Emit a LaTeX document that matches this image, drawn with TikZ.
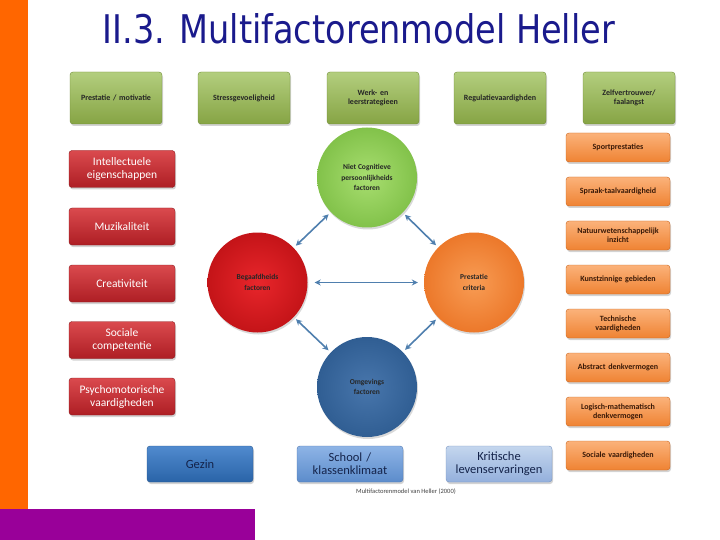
\documentclass[tikz,border=0pt]{standalone}
\usepackage{fontspec}
\setmainfont{Carlito}
\newfontfamily\titlefont{DejaVu Sans Condensed}
\usetikzlibrary{shadows,arrows.meta}

\definecolor{titleblue}{HTML}{1A1A8C}
\definecolor{barorange}{HTML}{FF6600}
\definecolor{barpurple}{HTML}{990099}
\definecolor{linkblue}{HTML}{4F7FAE}
\definecolor{grntop}{HTML}{B3CE7E}
\definecolor{grnbot}{HTML}{86A444}
\definecolor{grnline}{HTML}{6F8B34}
\definecolor{redtop}{HTML}{DA4A4E}
\definecolor{redbot}{HTML}{AE1E24}
\definecolor{redline}{HTML}{8C1A1E}
\definecolor{orgtop}{HTML}{FBB27A}
\definecolor{orgbot}{HTML}{EF8333}
\definecolor{orgline}{HTML}{C9651E}
\definecolor{orgtext}{HTML}{3A1A08}
\definecolor{boxtext}{HTML}{14234A}

\tikzset{
  box/.style={rounded corners=3pt, inner sep=1pt, align=center,
    drop shadow={shadow xshift=1pt, shadow yshift=-2pt, opacity=.35}},
  greenbox/.style={box, draw=grnline, top color=grntop, bottom color=grnbot,
    minimum width=92pt, minimum height=52pt, text width=88pt,
    font=\bfseries\fontsize{8}{9}\selectfont, text=black!85},
  redbox/.style={box, draw=redline, top color=redtop, bottom color=redbot,
    minimum width=106pt, minimum height=37pt, text width=104pt,
    font=\fontsize{11.5}{13}\selectfont, text=white},
  orangebox/.style={box, draw=orgline, top color=orgtop, bottom color=orgbot,
    minimum width=102pt, minimum height=29pt, text width=102pt,
    font=\bfseries\fontsize{8}{9}\selectfont, text=orgtext},
  bluebox/.style={box, minimum width=106pt, minimum height=36pt, text width=104pt,
    font=\fontsize{12.5}{13}\selectfont, text=boxtext},
  ball/.style={circle, minimum size=100pt, inner sep=0pt, align=center,
    font=\bfseries\fontsize{7.5}{10.5}\selectfont, text=black!85,
    drop shadow={shadow xshift=1pt, shadow yshift=-2pt, opacity=.3}},
  link/.style={{Stealth[length=6pt,width=6pt]}-{Stealth[length=6pt,width=6pt]}, line width=1.6pt, draw=linkblue,
    shorten <=3pt, shorten >=3pt}
}

\begin{document}
\begin{tikzpicture}[x=1pt,y=-1pt]
  \useasboundingbox (0,0) rectangle (720,540);

  % side bars
  \fill [barorange] (0,0) rectangle (28,509);
  \fill [barpurple] (0,509) rectangle (255,540);

  \node (title) [text=titleblue] at (359,29)
    {\resizebox{512pt}{30pt}{\titlefont II.3. Multifactorenmodel Heller}};

  % top row
  \node (g1) [greenbox] at (116,98) {Prestatie / motivatie};
  \node (g2) [greenbox] at (244,98) {Stressgevoeligheid};
  \node (g3) [greenbox] at (373,98) {Werk- en\\leerstrategieen};
  \node (g4) [greenbox] at (500,98) {Regulatievaardighden};
  \node (g5) [greenbox] at (629,98) {Zelfvertrouwer/\\faalangst};

  % left column
  \node (r1) [redbox] at (122,169) {Intellectuele\\eigenschappen};
  \node (r2) [redbox] at (122,226.5) {Muzikaliteit};
  \node (r3) [redbox] at (122,283.5) {Creativiteit};
  \node (r4) [redbox] at (122,340) {Sociale\\competentie};
  \node (r5) [redbox] at (122,396.5) {Psychomotorische\\vaardigheden};

  % right column
  \node (o1) [orangebox] at (618,147.5) {Sportprestaties};
  \node (o2) [orangebox] at (618,191.5) {Spraak-taalvaardigheid};
  \node (o3) [orangebox] at (618,235.5) {Natuurwetenschappelijk\\inzicht};
  \node (o4) [orangebox] at (618,279.5) {Kunstzinnige gebieden};
  \node (o5) [orangebox] at (618,323.5) {Technische\\vaardigheden};
  \node (o6) [orangebox] at (618,367.5) {Abstract denkvermogen};
  \node (o7) [orangebox] at (618,411.5) {Logisch-mathematisch\\denkvermogen};
  \node (o8) [orangebox] at (618,455.5) {Sociale vaardigheden};

  % bottom row
  \node (b1) [bluebox, draw={rgb,255:red,40;green,88;blue,144}, top color={rgb,255:red,80;green,138;blue,206}, bottom color={rgb,255:red,42;green,100;blue,168}] at (200,464) {Gezin};
  \node (b2) [bluebox, draw={rgb,255:red,80;green,120;blue,176}, top color={rgb,255:red,142;green,180;blue,230}, bottom color={rgb,255:red,92;green,140;blue,203}] at (350,464) {School /\\klassenklimaat};
  \node (b3) [bluebox, draw={rgb,255:red,120;green,148;blue,192}, top color={rgb,255:red,196;green,214;blue,238}, bottom color={rgb,255:red,148;green,176;blue,220}] at (499,464) {Kritische\\levenservaringen};

  \node (caption) [font=\fontsize{6.5}{7}\selectfont, text=black!75] at (406,492)
    {Multifactorenmodel van Heller (2000)};

  % circles
  \node (nc) [ball, inner color={rgb,255:red,168;green,222;blue,112}, outer color={rgb,255:red,130;green,194;blue,74}] at (367,177.5)
    {Niet Cognitieve\\persoonlijkheids\\factoren};
  \node (bf) [ball, inner color={rgb,255:red,232;green,38;blue,43}, outer color={rgb,255:red,196;green,20;blue,24}] at (257.5,282.5)
    {Begaafdheids\\factoren};
  \node (pc) [ball, inner color={rgb,255:red,248;green,156;blue,84}, outer color={rgb,255:red,236;green,120;blue,42}] at (474,282.5)
    {Prestatie\\criteria};
  \node (of) [ball, inner color={rgb,255:red,72;green,118;blue,172}, outer color={rgb,255:red,48;green,94;blue,147}] at (367,387)
    {Omgevings\\factoren};

  \draw [link] (nc) -- (bf);
  \draw [link] (nc) -- (pc);
  \draw [link, shorten <=7pt, shorten >=6pt] (bf) -- (pc);
  \draw [link] (bf) -- (of);
  \draw [link] (pc) -- (of);
\end{tikzpicture}
\end{document}
